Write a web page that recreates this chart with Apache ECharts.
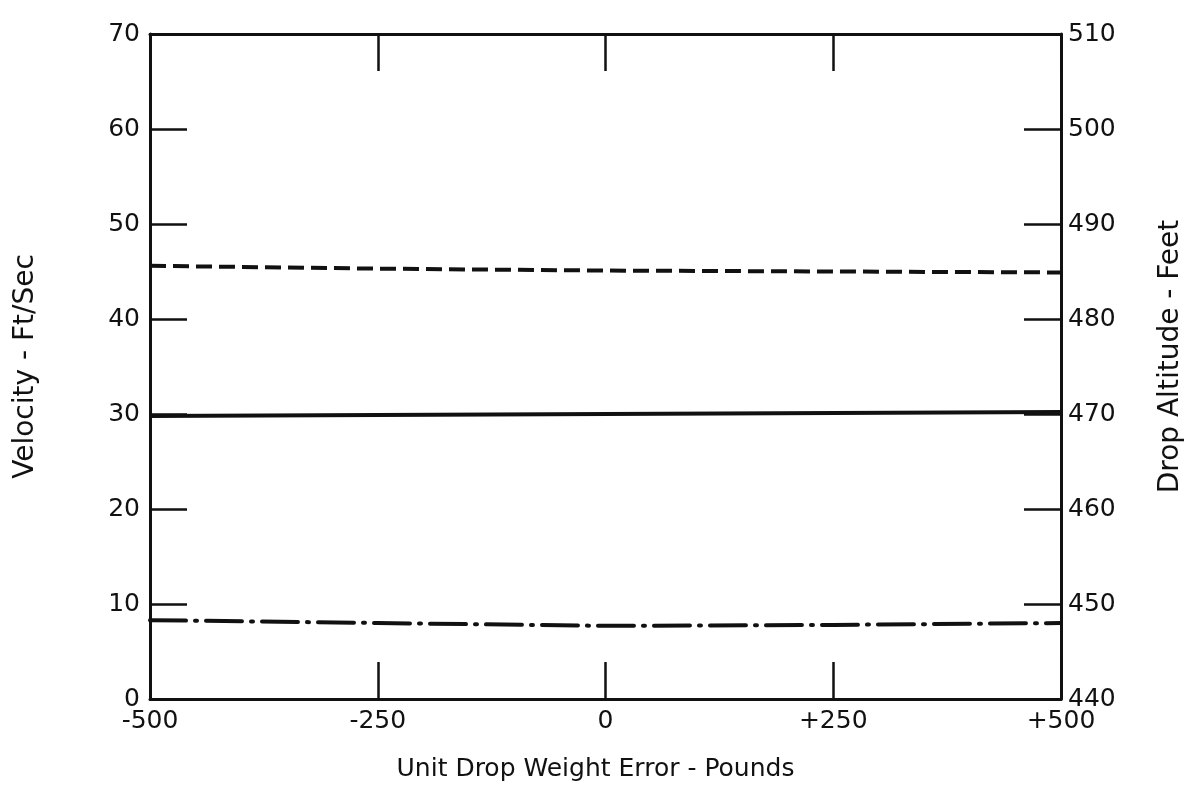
<!DOCTYPE html>
<html>
<head>
<meta charset="utf-8">
<script src="https://cdn.jsdelivr.net/npm/echarts@6/dist/echarts.min.js"></script>
<style>html,body{margin:0;padding:0;background:#fff}#c{width:1188px;height:800px}</style>
</head>
<body>
<div id="c"></div>
<script>
const weightError = [-500, -250, 0, 250, 500];
const dashedVelocity = [45.6, 45.3, 45.1, 45.0, 44.9];
const solidVelocity = [29.8, 29.9, 30.0, 30.1, 30.2];
const dashDotVelocity = [8.3, 8.0, 7.7, 7.8, 8.0];
const xTickLabels = ['-500', '-250', '0', '+250', '+500'];

const font = '"DejaVu Sans", sans-serif';
const black = '#111';
const chart = echarts.init(document.getElementById('c'));
const pair = arr => weightError.map((x, i) => [x, arr[i]]);
const lab = {color: black, fontSize: 25, fontFamily: font};
const lineAxis = {show: true, onZero: false, lineStyle: {color: black, width: 3}};
const tickIn = {show: true, inside: true, length: 37, lineStyle: {color: black, width: 2.5}};

chart.setOption({
  animation: false,
  backgroundColor: '#fff',
  grid: {left: 150, right: 127, top: 34, bottom: 101, containLabel: false, outerBoundsMode: 'none'},
  xAxis: [{
    type: 'value', min: -500, max: 500, interval: 250, position: 'bottom',
    axisLine: lineAxis, axisTick: tickIn, splitLine: {show: false},
    axisLabel: Object.assign({}, lab, {margin: 10, formatter: v => xTickLabels[weightError.indexOf(v)]}),
    name: 'Unit Drop Weight Error - Pounds', nameLocation: 'middle', nameGap: 58,
    nameTextStyle: {color: black, fontSize: 25, fontFamily: font, padding: [0, 20, 0, 0]}
  }, {
    type: 'value', min: -500, max: 500, interval: 250, position: 'top',
    axisLine: lineAxis, axisTick: tickIn, axisLabel: {show: false}, splitLine: {show: false}
  }],
  yAxis: [{
    type: 'value', min: 0, max: 70, interval: 10, position: 'left',
    axisLine: lineAxis, axisTick: tickIn, splitLine: {show: false},
    axisLabel: Object.assign({}, lab, {margin: 10}),
    name: 'Velocity - Ft/Sec', nameLocation: 'middle', nameGap: 110, nameRotate: 90,
    nameTextStyle: {color: black, fontSize: 28, fontFamily: font}
  }, {
    type: 'value', min: 440, max: 510, interval: 10, position: 'right',
    axisLine: lineAxis, axisTick: tickIn, splitLine: {show: false},
    axisLabel: Object.assign({}, lab, {margin: 7}),
    name: 'Drop Altitude - Feet', nameLocation: 'middle', nameGap: 96, nameRotate: 90,
    nameTextStyle: {color: black, fontSize: 28, fontFamily: font, padding: [0, 0, 0, 20]}
  }],
  series: [
    {type: 'line', data: pair(dashedVelocity), showSymbol: false, symbol: 'none',
     lineStyle: {color: black, width: 4, type: [16, 7]}},
    {type: 'line', data: pair(solidVelocity), showSymbol: false, symbol: 'none',
     lineStyle: {color: black, width: 4, type: 'solid'}},
    {type: 'line', data: pair(dashDotVelocity), showSymbol: false, symbol: 'none',
     lineStyle: {color: black, width: 4, type: [36, 9, 2, 9], cap: 'round'}}
  ]
});
</script>
</body>
</html>
